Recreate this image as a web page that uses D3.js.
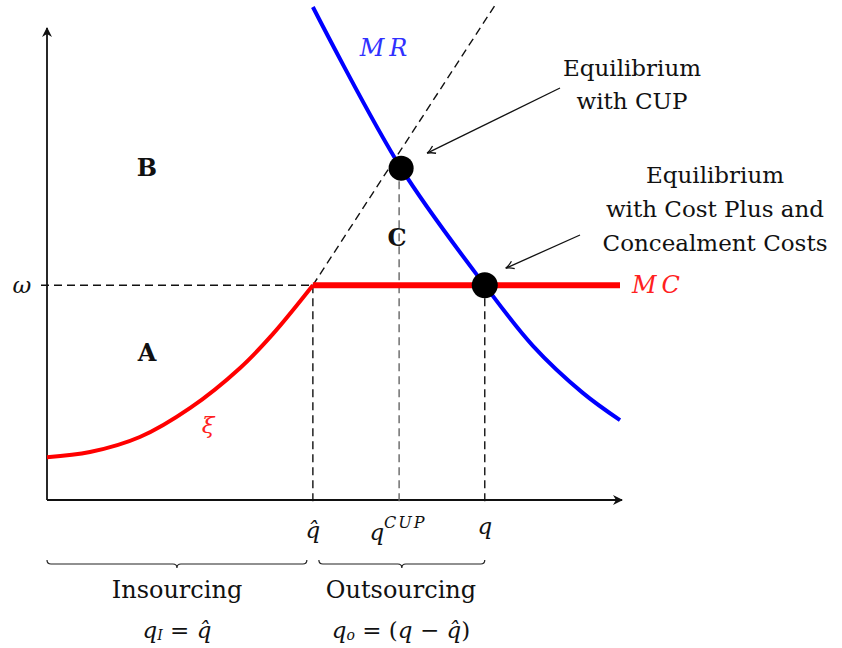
<!DOCTYPE html>
<html lang="en">
<head>
<meta charset="utf-8">
<title>CUP equilibrium</title>
<script src="https://cdn.jsdelivr.net/npm/d3@7"></script>
<style>
  body { margin: 0; background: #fff; }
  text { font-family: "DejaVu Serif", "Liberation Serif", serif; fill: #111; }
</style>
</head>
<body>
<script>
// data (chart units)
var omega = 4.57;
var qHat = 4.64, qCup = 6.18, qEq = 7.64, qEnd = 10;
var cupY = 7.06;
var xiX = [0, 0.75, 1.62, 2.5, 3.37, 3.94, 4.64];
var xiY = [0.91, 1.02, 1.34, 1.96, 2.81, 3.53, 4.57];
var mrX = [4.64, 6.18, 7.64, 8.48, 9.35, 10];
var mrY = [10.49, 7.06, 4.57, 3.28, 2.28, 1.7];
var rayX = [4.64, 7.82];
var rayY = [4.57, 10.53];

var w = 842, h = 648;
var svg = d3.select("body").append("svg").attr("width", w).attr("height", h);

var x = d3.scaleLinear().domain([0, 10]).range([47, 620]);
var y = d3.scaleLinear().domain([0, 10]).range([500, 30]);

var defs = svg.append("defs");
defs.append("marker").attr("id", "tip").attr("viewBox", "0 0 10 10")
    .attr("refX", 9).attr("refY", 5).attr("markerWidth", 10).attr("markerHeight", 10)
    .attr("markerUnits", "userSpaceOnUse").attr("orient", "auto")
    .append("path").attr("d", "M0,0 L10,5 L0,10 L3,5 Z").attr("fill", "#111");
defs.append("marker").attr("id", "open").attr("viewBox", "0 0 10 10")
    .attr("refX", 9).attr("refY", 5).attr("markerWidth", 10).attr("markerHeight", 10)
    .attr("markerUnits", "userSpaceOnUse").attr("orient", "auto")
    .append("path").attr("d", "M1,1 Q5,4 9,5 Q5,6 1,9").attr("fill", "none")
    .attr("stroke", "#111").attr("stroke-width", 1.3);

var line = d3.line().x(function (d) { return x(d[0]); }).y(function (d) { return y(d[1]); });

// axes
svg.append("line").attr("x1", x(0)).attr("y1", y(0)).attr("x2", x(0)).attr("y2", y(10) - 2)
    .attr("stroke", "#111").attr("stroke-width", 1.8).attr("marker-end", "url(#tip)");
svg.append("line").attr("x1", x(0)).attr("y1", y(0)).attr("x2", x(10) + 2).attr("y2", y(0))
    .attr("stroke", "#111").attr("stroke-width", 1.8).attr("marker-end", "url(#tip)");

// dashed guides
var dash = "8,5";
svg.append("line").attr("x1", x(0) - 6).attr("x2", x(qHat)).attr("y1", y(omega)).attr("y2", y(omega))
    .attr("stroke", "#111").attr("stroke-width", 1.4).attr("stroke-dasharray", dash);
svg.append("line").attr("x1", x(qHat)).attr("x2", x(qHat)).attr("y1", y(omega)).attr("y2", y(0) + 6)
    .attr("stroke", "#111").attr("stroke-width", 1.4).attr("stroke-dasharray", dash);
svg.append("line").attr("x1", x(qCup) - 2).attr("x2", x(qCup) - 2).attr("y1", y(cupY)).attr("y2", y(0) + 6)
    .attr("stroke", "#666").attr("stroke-width", 1.4).attr("stroke-dasharray", dash);
svg.append("line").attr("x1", x(qEq)).attr("x2", x(qEq)).attr("y1", y(omega)).attr("y2", y(0) + 6)
    .attr("stroke", "#111").attr("stroke-width", 1.4).attr("stroke-dasharray", dash);
svg.append("path").datum(d3.zip(rayX, rayY)).attr("d", line).attr("fill", "none")
    .attr("stroke", "#111").attr("stroke-width", 1.4).attr("stroke-dasharray", dash);

// curves
svg.append("path").datum(d3.zip(xiX, xiY)).attr("d", line.curve(d3.curveCatmullRom))
    .attr("fill", "none").attr("stroke", "#ff0000").attr("stroke-width", 4);
svg.append("line").attr("x1", x(qHat)).attr("x2", x(qEnd)).attr("y1", y(omega)).attr("y2", y(omega))
    .attr("stroke", "#ff0000").attr("stroke-width", 6);
svg.append("path").datum(d3.zip(mrX, mrY)).attr("d", line.curve(d3.curveCatmullRom))
    .attr("fill", "none").attr("stroke", "#0000ff").attr("stroke-width", 4);

// equilibrium dots
svg.append("circle").attr("cx", x(qCup)).attr("cy", y(cupY)).attr("r", 12.5).attr("fill", "#000");
svg.append("circle").attr("cx", x(qEq)).attr("cy", y(omega)).attr("r", 13).attr("fill", "#000");

// annotation arrows
svg.append("line").attr("x1", 560).attr("y1", 88).attr("x2", x(qCup) + 26).attr("y2", y(cupY) - 15)
    .attr("stroke", "#111").attr("stroke-width", 1.3).attr("marker-end", "url(#open)");
svg.append("line").attr("x1", 580).attr("y1", 235).attr("x2", x(qEq) + 21).attr("y2", y(omega) - 17)
    .attr("stroke", "#111").attr("stroke-width", 1.3).attr("marker-end", "url(#open)");

// labels
function label(tx, ty, str, opts) {
  opts = opts || {};
  return svg.append("text").attr("x", tx).attr("y", ty).attr("text-anchor", opts.anchor || "middle")
      .attr("dominant-baseline", "central").style("font-size", (opts.size || 23) + "px")
      .style("font-style", opts.italic ? "italic" : "normal")
      .style("font-weight", opts.bold ? "bold" : "normal")
      .style("letter-spacing", opts.ls ? opts.ls + "px" : null)
      .style("fill", opts.color || "#111").text(str);
}
label(147, 167, "B", { bold: true, size: 24 });
label(397, 237, "C", { bold: true, size: 24 });
label(147, 352, "A", { bold: true, size: 24 });
label(22, y(omega), "ω", { italic: true });
label(386, 48, "MR", { italic: true, color: "#3030ff", size: 24, ls: 5 });
label(632, y(omega), "MC", { italic: true, color: "#ff2020", anchor: "start", size: 24, ls: 5 });
label(208, 425, "ξ", { italic: true, color: "#ff2020" });

label(x(qHat), 530, "q̂", { italic: true });
var qc = label(398, 532, "", { italic: true });
qc.append("tspan").text("q");
qc.append("tspan").attr("dy", -10).style("font-size", "16px").style("letter-spacing", "2px").text("CUP");
label(x(qEq), 526, "q", { italic: true });

label(632, 68, "Equilibrium");
label(632, 101, "with CUP");
label(715, 175, "Equilibrium");
label(715, 209, "with Cost Plus and");
label(715, 243, "Concealment Costs");

// braces
function brace(x1, x2, yy, d) {
  var m = (x1 + x2) / 2;
  return "M" + x1 + "," + (yy - d) + " Q" + x1 + "," + yy + " " + (x1 + d) + "," + yy +
    " L" + (m - d) + "," + yy + " Q" + m + "," + yy + " " + m + "," + (yy + d) +
    " Q" + m + "," + yy + " " + (m + d) + "," + yy +
    " L" + (x2 - d) + "," + yy + " Q" + x2 + "," + yy + " " + x2 + "," + (yy - d);
}
svg.append("path").attr("d", brace(x(0), x(qHat) - 6, 564, 4)).attr("fill", "none")
    .attr("stroke", "#222").attr("stroke-width", 1.2);
svg.append("path").attr("d", brace(x(qHat) + 6, x(qEq), 564, 4)).attr("fill", "none")
    .attr("stroke", "#222").attr("stroke-width", 1.2);

label(177, 590, "Insourcing", { size: 24 });
var qi = label(177, 630, "", { italic: true });
qi.append("tspan").text("q");
qi.append("tspan").attr("dy", 5).style("font-size", "14px").text("I");
qi.append("tspan").attr("dy", -5).style("font-style", "normal").text(" = ");
qi.append("tspan").text("q̂");
label(401, 590, "Outsourcing", { size: 24 });
var qo = label(401, 630, "", { italic: true });
qo.append("tspan").text("q");
qo.append("tspan").attr("dy", 5).style("font-size", "14px").text("o");
qo.append("tspan").attr("dy", -5).style("font-style", "normal").text(" = (");
qo.append("tspan").text("q");
qo.append("tspan").style("font-style", "normal").text(" − ");
qo.append("tspan").text("q̂");
qo.append("tspan").style("font-style", "normal").text(")");
</script>
</body>
</html>
